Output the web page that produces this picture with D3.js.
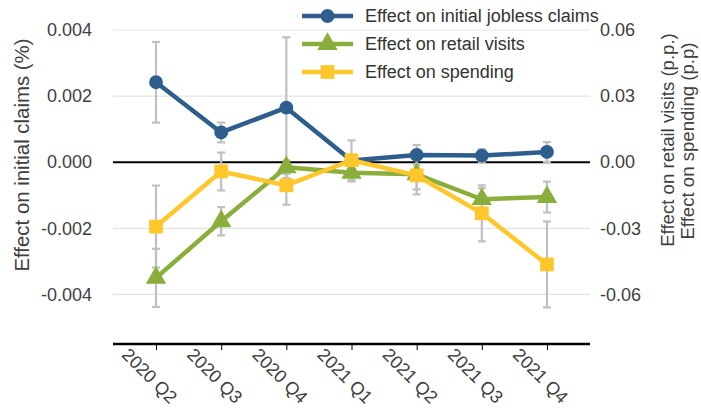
<!DOCTYPE html>
<html>
<head>
<meta charset="utf-8">
<script src="https://cdn.jsdelivr.net/npm/d3@7"></script>
<style>
  body { margin: 0; background: #fff; }
  svg { display: block; font-family: "Liberation Sans", Arial, sans-serif; }
</style>
</head>
<body>
<svg id="chart" width="701" height="408"></svg>
<script>
// Quarterly effects, with error-bar half-widths
const quarters = ["2020 Q2", "2020 Q3", "2020 Q4", "2021 Q1", "2021 Q2", "2021 Q3", "2021 Q4"];

// Effect on initial jobless claims (%), left axis
const claims    = [0.00242, 0.0009, 0.00165, 0.00005, 0.00022, 0.0002, 0.00031];
const claimsErr = [0.00122, 0.0003, 0.00213, 0.00015, 0.0003, 0.0002, 0.0003];

// Effect on retail visits (p.p.), right axis
const retail    = [-0.0525, -0.0268, -0.0023, -0.0048, -0.0055, -0.0168, -0.0158];
const retailErr = [0.0132, 0.0064, 0.003, 0.004, 0.0068, 0.005, 0.007];

// Effect on spending (p.p.), right axis
const spending    = [-0.0292, -0.0042, -0.0105, 0.0009, -0.006, -0.0232, -0.0464];
const spendingErr = [0.0186, 0.0086, 0.0088, 0.009, 0.0086, 0.0127, 0.0195];

const leftTicks  = [-0.004, -0.002, 0, 0.002, 0.004];
const rightTicks = [-0.06, -0.03, 0, 0.03, 0.06];

const colors = { claims: "#2E5E8E", retail: "#8AAE3C", spending: "#FFC72C" };
const errColor = "#C0C0C0";
const textColor = "#404040";
const FONT = "Liberation Sans, Arial, sans-serif";

const svg = d3.select("#chart");
const plot = { left: 113, right: 590, top: 30, bottom: 344 };

const x = d3.scalePoint().domain(quarters).range([plot.left, plot.right]).padding(0.66);
const yL = d3.scaleLinear().domain([-0.0055, 0.004]).range([plot.bottom, plot.top]);
const yR = d3.scaleLinear().domain([-0.0825, 0.06]).range([plot.bottom, plot.top]);

// Plain hyphen for negatives
const fmt = p => d => d3.format(p)(d).replace("\u2212", "-");

// Gridlines
svg.append("g").selectAll("line")
  .data(leftTicks.filter(d => d !== 0))
  .join("line")
  .attr("x1", plot.left).attr("x2", plot.right)
  .attr("y1", d => yL(d)).attr("y2", d => yL(d))
  .attr("stroke", "#E3E3E3").attr("stroke-width", 1.2);

// Left axis labels
const leftAxis = d3.axisLeft(yL).tickValues(leftTicks).tickFormat(fmt(".3f")).tickSize(0).tickPadding(0);
const gL = svg.append("g").attr("transform", `translate(92,0)`).call(leftAxis);
gL.select(".domain").remove();
gL.selectAll("text").attr("font-size", 18).attr("fill", textColor).attr("font-family", FONT);

// Right axis labels
const rightAxis = d3.axisRight(yR).tickValues(rightTicks).tickFormat(fmt(".2f")).tickSize(0).tickPadding(0);
const gR = svg.append("g").attr("transform", `translate(600,0)`).call(rightAxis);
gR.select(".domain").remove();
gR.selectAll("text").attr("font-size", 18).attr("fill", textColor).attr("font-family", FONT);

// Zero line
svg.append("line")
  .attr("x1", plot.left).attr("x2", plot.right)
  .attr("y1", yL(0)).attr("y2", yL(0))
  .attr("stroke", "#000").attr("stroke-width", 2);

// Category axis along the bottom
const xAxis = d3.axisBottom(x).tickSize(6).tickSizeOuter(0).tickFormat("");
const gX = svg.append("g").attr("transform", `translate(0,${plot.bottom})`).call(xAxis);
gX.select(".domain").attr("d", `M${plot.left},0H${plot.right}`).attr("stroke", "#000").attr("stroke-width", 2.5);
gX.selectAll(".tick line").attr("stroke", "#000").attr("stroke-width", 1);

svg.append("g").selectAll("text")
  .data(quarters)
  .join("text")
  .attr("transform", d => `translate(${x(d) - 6.5},376) rotate(45)`)
  .attr("text-anchor", "middle")
  .attr("dominant-baseline", "central")
  .attr("font-size", 18)
  .attr("fill", textColor)
  .text(d => d);

// Axis titles
svg.append("text")
  .attr("transform", "translate(29,155) rotate(-90)")
  .attr("text-anchor", "middle")
  .attr("font-size", 20.4).attr("fill", textColor)
  .text("Effect on initial claims (%)");
svg.append("text")
  .attr("transform", "translate(674,140) rotate(-90)")
  .attr("text-anchor", "middle")
  .attr("font-size", 18.6).attr("fill", textColor)
  .text("Effect on retail visits (p.p.)");
svg.append("text")
  .attr("transform", "translate(694,141) rotate(-90)")
  .attr("text-anchor", "middle")
  .attr("font-size", 18.6).attr("fill", textColor)
  .text("Effect on spending (p.p)");

// Series definitions
const series = [
  { key: "claims", values: claims, errs: claimsErr, y: yL, marker: "circle" },
  { key: "retail", values: retail, errs: retailErr, y: yR, marker: "triangle" },
  { key: "spending", values: spending, errs: spendingErr, y: yR, marker: "square" }
];

// Error bars
const errG = svg.append("g");
series.forEach(s => {
  const rows = quarters.map((q, i) => ({ q, lo: s.values[i] - s.errs[i], hi: s.values[i] + s.errs[i] }));
  const g = errG.append("g").attr("stroke", errColor).attr("stroke-width", 2.2).attr("fill", "none");
  g.selectAll("line.v").data(rows).join("line").attr("class", "v")
    .attr("x1", d => x(d.q)).attr("x2", d => x(d.q))
    .attr("y1", d => s.y(d.lo)).attr("y2", d => s.y(d.hi));
  g.selectAll("line.t").data(rows).join("line").attr("class", "t")
    .attr("x1", d => x(d.q) - 4).attr("x2", d => x(d.q) + 4)
    .attr("y1", d => s.y(d.hi)).attr("y2", d => s.y(d.hi));
  g.selectAll("line.b").data(rows).join("line").attr("class", "b")
    .attr("x1", d => x(d.q) - 4).attr("x2", d => x(d.q) + 4)
    .attr("y1", d => s.y(d.lo)).attr("y2", d => s.y(d.lo));
});

const symbols = {
  circle: d3.symbol().type(d3.symbolCircle).size(150),
  triangle: d3.symbol().type(d3.symbolTriangle).size(180),
  square: d3.symbol().type(d3.symbolSquare).size(190)
};

// Lines and markers
series.forEach(s => {
  const pts = quarters.map((q, i) => [x(q), s.y(s.values[i])]);
  svg.append("path")
    .attr("d", d3.line()(pts))
    .attr("fill", "none")
    .attr("stroke", colors[s.key])
    .attr("stroke-width", 4.5)
    .attr("stroke-linejoin", "round");
  svg.append("g").selectAll("path")
    .data(pts)
    .join("path")
    .attr("transform", d => `translate(${d[0]},${d[1]})`)
    .attr("d", symbols[s.marker]())
    .attr("fill", colors[s.key]);
});

// Legend
const legendItems = [
  { key: "claims", label: "Effect on initial jobless claims", marker: "circle" },
  { key: "retail", label: "Effect on retail visits", marker: "triangle" },
  { key: "spending", label: "Effect on spending", marker: "square" }
];
const lg = svg.append("g");
legendItems.forEach((it, i) => {
  const yy = 16 + i * 28;
  lg.append("line")
    .attr("x1", 302).attr("x2", 353).attr("y1", yy).attr("y2", yy)
    .attr("stroke", colors[it.key]).attr("stroke-width", 4.5);
  lg.append("path")
    .attr("transform", `translate(327.5,${yy})`)
    .attr("d", symbols[it.marker]())
    .attr("fill", colors[it.key]);
  lg.append("text")
    .attr("x", 365).attr("y", yy)
    .attr("dominant-baseline", "central")
    .attr("font-size", 18).attr("fill", "#333")
    .text(it.label);
});
</script>
</body>
</html>
